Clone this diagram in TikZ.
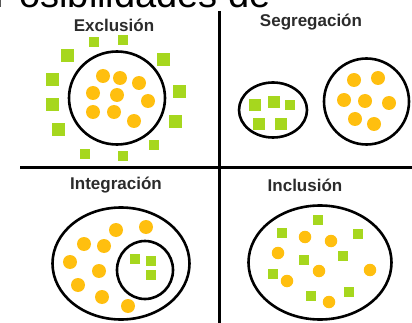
\documentclass[tikz,border=0pt]{standalone}
\usepackage{fontspec}
\setmainfont{Liberation Sans}
\usepackage{tikz}
\usetikzlibrary{positioning,shapes.geometric}
\definecolor{dotcol}{HTML}{FFBF0F}
\definecolor{sqcol}{HTML}{A6D71E}
\definecolor{titlecol}{HTML}{2B2B2B}

\begin{document}
\begin{tikzpicture}[
  x=1pt, y=-1pt,
  title/.style={font=\fontsize{17}{17}\selectfont\bfseries, text=titlecol, inner sep=0pt},
  ring/.style={ellipse, draw=black, line width=2.6pt, inner sep=0pt},
  dot/.style={circle, fill=dotcol, minimum size=14pt, inner sep=0pt},
  sdot/.style={dot, minimum size=12.5pt},
  sq/.style={rectangle, fill=sqcol, minimum size=12pt, inner sep=0pt},
  ssq/.style={sq, minimum size=10pt},
  divider/.style={line width=3pt, black},
]
\useasboundingbox (0,0) rectangle (412,323);

% Clipped heading (top)
\begin{scope}
  \clip (0,0) rectangle (412,9);
  \node[anchor=base east, font=\fontsize{38}{38}\selectfont, inner sep=0pt] (head) at (271,7.5) {Posibilidades de};
\end{scope}

% Dividers
\coordinate (vtop) at (219,11);
\coordinate (vbot) at (219,323);
\coordinate (hleft) at (20,168);
\coordinate (hright) at (412,168);
\draw[divider] (vtop) -- (vbot);
\draw[divider] (hleft) -- (hright);

% Exclusion
\node[title] (texc) at (114,25) {Exclusión};
\node[ring, minimum width=96pt, minimum height=93pt] (excring) at (117,98) {};
\foreach \x/\y [count=\i] in {103/76,120/78,139/83,93/93,117/95,148/101,93/112,114/112,134/121}
  \node[dot] (exd\i) at (\x,\y) {};
\foreach \x/\y [count=\i] in {67/56,163/60,52/80,179/92,52/105,175/122,58/130}
  \node[sq, minimum size=13pt] (exs\i) at (\x,\y) {};
\foreach \x/\y [count=\i] in {94/42,123/40,154/145,85/154,123/156}
  \node[ssq] (exq\i) at (\x,\y) {};

% Segregation
\node[title] (tseg) at (311,22) {Segregación};
\node[ring, minimum width=68pt, minimum height=55pt] (segsmall) at (273,110) {};
\node[ring, minimum width=85pt, minimum height=86pt] (segbig) at (366.5,101.5) {};
\foreach \x/\y [count=\i] in {255/105,274/102,259/124,281/124}
  \node[sq] (sgs\i) at (\x,\y) {};
\node[ssq] (sgs5) at (290,105) {};
\foreach \x/\y [count=\i] in {354/80,378/78,344/100,365/101,389/103,355/119,374/124}
  \node[dot] (sgd\i) at (\x,\y) {};

% Integration
\node[title] (tint) at (116,185) {Integración};
\node[ring, minimum width=137pt, minimum height=112pt] (intouter) at (121,263.5) {};
\node[ring, minimum width=56pt, minimum height=58pt] (intinner) at (145,270) {};
\foreach \x/\y [count=\i] in {135/259,151/261,151/275}
  \node[ssq] (ins\i) at (\x,\y) {};
\foreach \x/\y [count=\i] in {116/230,146/227,84/244,104/246,70/262,99/271,78/285,102/297,128/306}
  \node[dot] (ind\i) at (\x,\y) {};

% Inclusion
\node[title] (tinc) at (305,185) {Inclusión};
\node[ring, minimum width=143pt, minimum height=114pt] (incring) at (320,262.5) {};
\foreach \x/\y [count=\i] in {318/220,282/233,358/234,304/260,343/256,273/274,311/296,349/292}
  \node[ssq] (ics\i) at (\x,\y) {};
\foreach \x/\y [count=\i] in {305/237,331/241,278/253,319/271,370/270,287/281,329/302}
  \node[sdot] (icd\i) at (\x,\y) {};

\end{tikzpicture}
\end{document}
